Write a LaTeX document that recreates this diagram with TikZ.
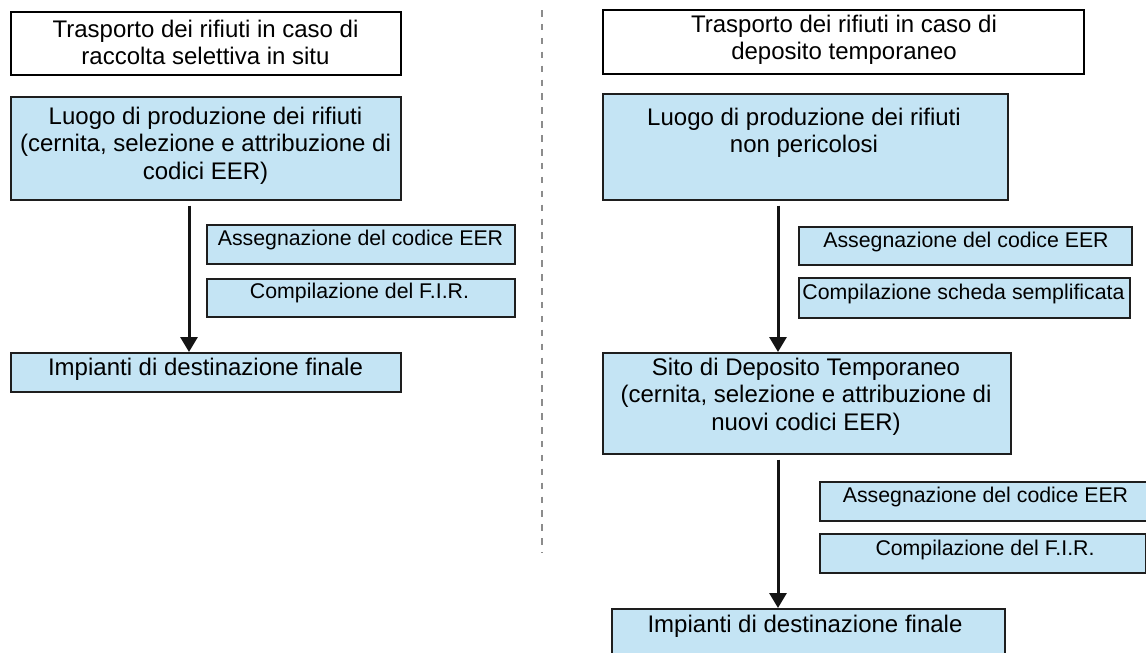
\documentclass[tikz,border=0pt]{standalone}
\usepackage{fontspec}
\setmainfont{Liberation Sans}
\usetikzlibrary{arrows.meta}
\definecolor{boxblue}{RGB}{196,228,244}
\definecolor{edge}{RGB}{30,30,30}
\begin{document}
\begin{tikzpicture}[x=1pt,y=-1pt,
  frame/.style={rectangle, inner sep=0pt, anchor=north west},
  whitebox/.style={frame, draw=black, line width=2pt, fill=white},
  bluebox/.style={frame, draw=edge, line width=1.5pt, fill=boxblue},
  bigtxt/.style={font=\fontsize{24}{27.5}\selectfont, align=center, inner sep=0pt, anchor=north},
  smalltxt/.style={font=\fontsize{21.3}{24}\selectfont, align=center, inner sep=0pt, anchor=north},
  flow/.style={-{Triangle[width=17pt,length=15pt]}, line width=3pt, draw=black!92, shorten <=5pt},
  divider/.style={draw=black!45, line width=2pt, dash pattern=on 6.5pt off 7.4pt}]
\clip (0,0) rectangle (1146,653);
\fill[white] (0,0) rectangle (1146,653);

% divider
\coordinate (dtop) at (542,10);
\coordinate (dbot) at (542,553);
\draw[divider] (dtop) -- (dbot);

% ---------- left column ----------
\node[whitebox, minimum width=390pt, minimum height=63pt] (l1) at (10,11) {};
\node[bigtxt] (l1t) at (205.5,19.5) {Trasporto dei rifiuti in caso di\\raccolta selettiva in situ};

\node[bluebox, minimum width=390pt, minimum height=103pt] (l2) at (10,96) {};
\node[bigtxt] (l2t) at (205.5,106.5) {Luogo di produzione dei rifiuti\\(cernita, selezione e attribuzione di\\codici EER)};

\node[bluebox, minimum width=308pt, minimum height=39pt] (la1) at (206,224) {};
\node[smalltxt] (la1t) at (360.5,229.5) {Assegnazione del codice EER};

\node[bluebox, minimum width=308pt, minimum height=38pt] (la2) at (206,278) {};
\node[smalltxt] (la2t) at (359.5,282.5) {Compilazione del F.I.R.};

\node[bluebox, minimum width=390pt, minimum height=39pt] (l3) at (10,352) {};
\node[bigtxt] (l3t) at (205.5,357.5) {Impianti di destinazione finale};

\coordinate (lax) at (189,0);
\draw[flow] (l2.south -| lax) -- (l3.north -| lax);

% ---------- right column ----------
\node[whitebox, minimum width=481pt, minimum height=64pt] (r1) at (602,9) {};
\node[bigtxt] (r1t) at (844,14.5) {Trasporto dei rifiuti in caso di\\deposito temporaneo};

\node[bluebox, minimum width=405pt, minimum height=106pt] (r2) at (602,93) {};
\node[bigtxt] (r2t) at (804,107.5) {Luogo di produzione dei rifiuti\\non pericolosi};

\node[bluebox, minimum width=333pt, minimum height=38pt] (ra1) at (798,226) {};
\node[smalltxt] (ra1t) at (966,231.5) {Assegnazione del codice EER};

\node[bluebox, minimum width=331pt, minimum height=40pt] (ra2) at (798,277) {};
\node[smalltxt] (ra2t) at (963.5,283.5) {Compilazione scheda semplificata};

\node[bluebox, minimum width=408pt, minimum height=101pt] (r3) at (602,352) {};
\node[bigtxt] (r3t) at (806,357.5) {Sito di Deposito Temporaneo\\(cernita, selezione e attribuzione di\\nuovi codici EER)};

\node[bluebox, minimum width=327pt, minimum height=39pt] (rb1) at (819,481) {};
\node[smalltxt] (rb1t) at (985.5,486.5) {Assegnazione del codice EER};

\node[bluebox, minimum width=326pt, minimum height=39pt] (rb2) at (819,533) {};
\node[smalltxt] (rb2t) at (985,539.5) {Compilazione del F.I.R.};

\node[bluebox, minimum width=393pt, minimum height=62pt] (r4) at (611,608) {};
\node[bigtxt] (r4t) at (805,614.5) {Impianti di destinazione finale};

\coordinate (rax) at (778,0);
\draw[flow] (r2.south -| rax) -- (r3.north -| rax);
\draw[flow] (r3.south -| rax) -- (r4.north -| rax);
\end{tikzpicture}
\end{document}
